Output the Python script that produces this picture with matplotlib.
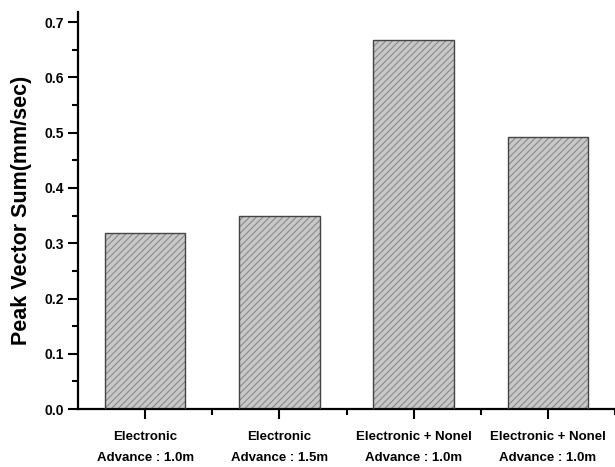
import matplotlib.pyplot as plt
from matplotlib.ticker import MultipleLocator

plt.rcParams['font.family'] = ['Liberation Sans', 'DejaVu Sans']
plt.rcParams['hatch.linewidth'] = 0.8

categories = ['Electronic\nAdvance : 1.0m',
              'Electronic\nAdvance : 1.5m',
              'Electronic + Nonel\nAdvance : 1.0m',
              'Electronic + Nonel\nAdvance : 1.0m']
values = [0.318, 0.349, 0.667, 0.492]


def main():
    fig = plt.figure(figsize=(6.15, 4.67), dpi=100)
    ax = fig.add_axes([0.127, 0.124, 0.873, 0.850])

    x = range(len(categories))
    # hatched fill first, then a dark outline on top
    ax.bar(x, values, width=0.6, facecolor='#c8c8c8', edgecolor='#8a8a8a',
           linewidth=0, hatch='/////', zorder=2)
    ax.bar(x, values, width=0.6, fill=False, edgecolor='#444444',
           linewidth=1.0, zorder=3)

    ax.set_xlim(-0.5, 3.5)
    ax.set_ylim(0, 0.718)
    ax.set_xticks(list(x))
    ax.set_xticklabels(categories, fontsize=9.5, fontweight='bold',
                       linespacing=2.0)
    ax.set_xticks([0.5, 1.5, 2.5, 3.5], minor=True)

    ax.set_yticks([0.0, 0.1, 0.2, 0.3, 0.4, 0.5, 0.6, 0.7])
    ax.yaxis.set_minor_locator(MultipleLocator(0.05))
    ax.set_yticklabels(['0.0', '0.1', '0.2', '0.3', '0.4', '0.5', '0.6', '0.7'],
                       fontsize=10, fontweight='bold')

    ax.tick_params(which='major', direction='out', length=7, width=1.5, pad=3)
    ax.tick_params(which='minor', direction='out', length=4, width=1.5)
    ax.tick_params(axis='x', which='major', pad=9)

    ax.set_ylabel('Peak Vector Sum(mm/sec)', fontsize=15.5, fontweight='bold',
                  labelpad=9)

    for side in ('top', 'right'):
        ax.spines[side].set_visible(False)
    for side in ('left', 'bottom'):
        ax.spines[side].set_linewidth(1.6)

    fig.savefig('out.png', dpi=100, facecolor='white')
    plt.close(fig)


if __name__ == '__main__':
    main()
